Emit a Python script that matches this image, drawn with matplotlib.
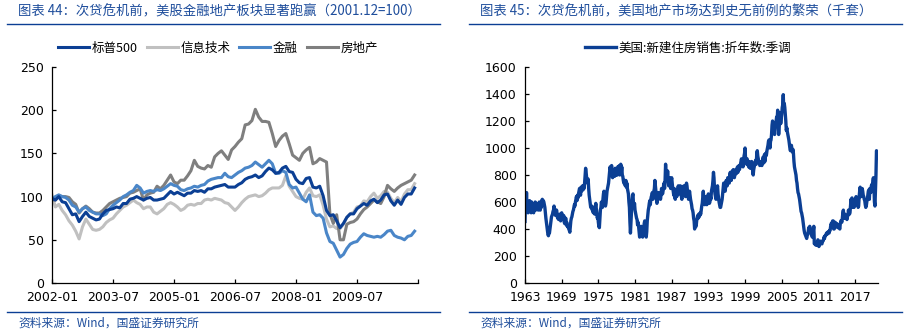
import matplotlib
matplotlib.use('Agg')
import matplotlib.pyplot as plt
from matplotlib.lines import Line2D
import numpy as np

plt.rcParams['font.family'] = ['DejaVu Sans', 'Noto Sans CJK SC']
plt.rcParams['axes.unicode_minus'] = False

# ---- left chart: monthly index, 2001.12 = 100 (2002-01 .. 2010-12) ----
sp500 = [98, 96, 100, 94, 93, 86, 79, 80, 71, 77, 82, 77,
         75, 73, 74, 80, 84, 85, 86, 88, 87, 92, 92, 97,
         98, 100, 98, 96, 98, 99, 96, 96, 97, 98, 102, 106,
         103, 105, 103, 101, 104, 104, 107, 106, 107, 105, 109, 109,
         111, 112, 113, 114, 111, 111, 111, 114, 116, 120, 122, 123,
         125, 122, 124, 129, 133, 131, 127, 128, 133, 135, 129, 128,
         120, 116, 115, 121, 122, 111, 110, 112, 101, 84, 78, 79,
         72, 64, 69, 76, 80, 80, 86, 89, 92, 90, 95, 97,
         93, 96, 102, 103, 95, 90, 96, 91, 99, 103, 103, 110]
info_tech = [102, 88, 91, 84, 79, 72, 67, 60, 51, 65, 74, 68,
             62, 61, 62, 65, 70, 73, 75, 80, 84, 88, 90, 93,
             96, 93, 91, 86, 88, 88, 82, 80, 83, 86, 91, 93,
             91, 88, 84, 86, 90, 91, 90, 92, 92, 96, 97, 96,
             98, 97, 96, 93, 92, 88, 84, 88, 93, 97, 100, 101,
             102, 100, 101, 104, 108, 110, 110, 110, 113, 124, 112, 106,
             100, 98, 97, 105, 110, 101, 100, 102, 90, 74, 65, 66,
             63, 63, 68, 76, 80, 82, 88, 89, 95, 94, 100, 104,
             98, 101, 106, 105, 98, 93, 99, 94, 103, 108, 108, 115]
financials = [98, 100, 102, 100, 99, 96, 90, 88, 82, 86, 88, 84,
              82, 80, 80, 78, 80, 86, 90, 93, 96, 100, 102, 105,
              107, 113, 110, 104, 106, 107, 106, 108, 107, 109, 112, 115,
              113, 112, 108, 107, 109, 110, 112, 111, 113, 114, 118, 120,
              121, 122, 122, 127, 123, 122, 125, 128, 130, 133, 134, 136,
              140, 137, 134, 138, 142, 138, 127, 127, 130, 128, 114, 110,
              111, 104, 97, 94, 102, 82, 78, 79, 75, 58, 48, 46,
              38, 30, 33, 40, 45, 47, 48, 53, 57, 55, 54, 53,
              54, 53, 56, 60, 61, 55, 53, 52, 50, 54, 55, 60]
real_estate = [96, 96, 101, 100, 100, 99, 94, 91, 81, 86, 89, 86,
               82, 81, 81, 84, 88, 92, 94, 96, 98, 99, 100, 104,
               105, 107, 109, 96, 102, 104, 105, 112, 109, 113, 119, 125,
               117, 115, 119, 119, 124, 130, 142, 135, 133, 132, 136, 134,
               146, 150, 153, 148, 143, 154, 158, 163, 167, 183, 184, 188,
               201, 192, 187, 187, 186, 173, 158, 165, 170, 173, 161, 148,
               145, 142, 150, 154, 157, 138, 140, 144, 142, 140, 80, 69,
               79, 50, 50, 68, 70, 71, 74, 80, 85, 88, 92, 96,
               94, 92, 100, 113, 109, 106, 110, 113, 115, 117, 119, 125]
left_labels = ['标普500', '信息技术', '金融', '房地产']
left_ticks = ['2002-01', '2003-07', '2005-01', '2006-07', '2008-01', '2009-07', '']

# ---- right chart: US new home sales, SAAR, thousands (monthly from 1963-01) ----
home_sales = [
    456, 620, 560, 670, 540, 600, 520, 590, 540, 610, 530, 560,  # 1963
    520, 600, 550, 580, 530, 520, 580, 560, 600, 540, 560, 590,  # 1964
    550, 580, 540, 560, 600, 560, 540, 580, 560, 610, 620, 590,  # 1965
    610, 600, 580, 560, 520, 480, 450, 420, 390, 360, 350, 380,  # 1966
    370, 400, 430, 460, 490, 500, 510, 530, 540, 570, 550, 520,  # 1967
    500, 520, 540, 510, 480, 500, 470, 490, 510, 480, 460, 500,  # 1968
    520, 500, 480, 470, 500, 450, 440, 460, 480, 430, 450, 420,  # 1969
    420, 410, 400, 390, 376, 420, 460, 480, 490, 510, 530, 540,  # 1970
    560, 580, 570, 600, 620, 640, 610, 650, 630, 660, 680, 700,  # 1971
    690, 650, 710, 680, 700, 720, 690, 720, 700, 740, 800, 850,  # 1972
    820, 780, 760, 740, 770, 700, 650, 620, 590, 560, 560, 570,  # 1973
    540, 560, 520, 560, 540, 510, 560, 590, 550, 520, 480, 500,  # 1974
    450, 420, 410, 480, 540, 560, 600, 580, 560, 620, 660, 680,  # 1975
    600, 580, 570, 590, 640, 680, 700, 720, 740, 780, 820, 860,  # 1976
    840, 820, 870, 800, 780, 830, 800, 820, 790, 850, 820, 800,  # 1977
    830, 800, 860, 820, 850, 870, 800, 840, 880, 820, 860, 800,  # 1978
    790, 760, 740, 760, 730, 720, 760, 710, 740, 700, 680, 660,  # 1979
    600, 560, 450, 370, 450, 530, 600, 650, 660, 580, 560, 590,  # 1980
    540, 520, 500, 480, 470, 430, 450, 420, 380, 340, 360, 380,  # 1981
    420, 380, 350, 340, 380, 400, 440, 460, 420, 360, 340, 380,  # 1982
    460, 500, 540, 560, 590, 610, 580, 620, 640, 650, 670, 620,  # 1983
    640, 680, 700, 760, 720, 680, 620, 590, 610, 640, 670, 630,  # 1984
    660, 640, 620, 650, 700, 690, 660, 680, 720, 740, 700, 760,  # 1985
    880, 800, 780, 760, 830, 760, 720, 740, 780, 730, 700, 760,  # 1986
    780, 740, 700, 680, 650, 700, 640, 620, 660, 690, 640, 680,  # 1987
    700, 720, 680, 660, 700, 720, 680, 640, 620, 710, 700, 680,  # 1988
    720, 690, 660, 640, 700, 740, 720, 680, 660, 620, 640, 680,  # 1989
    650, 620, 600, 580, 550, 540, 520, 480, 460, 400, 420, 430,  # 1990
    420, 460, 480, 500, 480, 510, 490, 500, 520, 510, 540, 570,  # 1991
    590, 640, 680, 620, 600, 580, 620, 640, 600, 580, 620, 640,  # 1992
    660, 620, 590, 600, 640, 620, 680, 700, 720, 760, 820, 780,  # 1993
    700, 660, 640, 620, 680, 700, 720, 660, 630, 600, 580, 560,  # 1994
    560, 580, 600, 620, 660, 700, 740, 720, 700, 680, 720, 760,  # 1995
    740, 720, 780, 770, 760, 740, 800, 820, 780, 760, 800, 830,  # 1996
    800, 840, 820, 780, 800, 820, 840, 810, 830, 860, 820, 850,  # 1997
    870, 840, 860, 880, 900, 920, 880, 910, 860, 900, 940, 960,  # 1998
    1000, 920, 900, 880, 920, 900, 880, 860, 900, 880, 850, 880,  # 1999
    870, 900, 860, 830, 800, 840, 860, 880, 900, 910, 880, 960,  # 2000
    980, 940, 920, 890, 900, 870, 880, 900, 880, 870, 880, 930,  # 2001
    920, 890, 950, 900, 960, 940, 950, 980, 1000, 1020, 1050, 1060,  # 2002
    1020, 1000, 1050, 1060, 1100, 1170, 1200, 1180, 1120, 1140, 1100, 1160,  # 2003
    1190, 1200, 1230, 1200, 1280, 1170, 1100, 1150, 1220, 1260, 1180, 1220,  # 2004
    1250, 1300, 1320, 1395, 1280, 1330, 1300, 1250, 1200, 1130, 1150, 1120,  # 2005
    1100, 1080, 1060, 1030, 1000, 980, 1000, 1020, 990, 970, 990, 960,  # 2006
    900, 860, 840, 820, 800, 760, 740, 700, 670, 660, 640, 620,  # 2007
    590, 560, 530, 520, 500, 480, 450, 420, 390, 370, 360, 350,  # 2008
    340, 330, 350, 360, 380, 410, 400, 420, 400, 380, 360, 350,  # 2009
    340, 350, 390, 420, 290, 300, 290, 280, 300, 290, 280, 320,  # 2010
    300, 270, 290, 300, 310, 300, 290, 290, 310, 310, 320, 340,  # 2011
    330, 350, 350, 360, 370, 360, 370, 380, 380, 370, 390, 390,  # 2012
    420, 440, 430, 450, 460, 460, 400, 400, 410, 450, 440, 430,  # 2013
    440, 430, 410, 420, 430, 410, 400, 440, 460, 460, 450, 480,  # 2014
    520, 540, 480, 500, 510, 480, 490, 500, 470, 490, 500, 540,  # 2015
    520, 510, 520, 570, 620, 560, 630, 560, 570, 580, 560, 570,  # 2016
    600, 590, 640, 600, 610, 620, 560, 570, 640, 680, 710, 640,  # 2017
    640, 670, 700, 680, 650, 640, 620, 610, 580, 560, 570, 600,  # 2018
    620, 650, 680, 690, 620, 700, 690, 670, 720, 730, 720, 760,  # 2019
    780, 720, 600, 570, 680, 800, 980, 970, 930,  # 2020
]
right_label = '美国:新建住房销售:折年数:季调'
right_ticks = [1963, 1969, 1975, 1981, 1987, 1993, 1999, 2005, 2011, 2017]

title_left = '图表 44：次贷危机前，美股金融地产板块显著跑赢（2001.12=100）'
title_right = '图表 45：次贷危机前，美国地产市场达到史无前例的繁荣（千套）'
source = '资料来源：Wind，国盛证券研究所'

navy = '#0b3f94'
title_blue = '#1f4e9c'
cjk = ['Noto Sans CJK SC', 'DejaVu Sans']

fig = plt.figure(figsize=(9.1, 3.34), dpi=100)
W, H = 910, 334


def fx(px):
    return px / W


def fy(py):
    return 1 - py / H


def style_axis(ax):
    ax.spines['top'].set_visible(False)
    ax.spines['right'].set_visible(False)
    for s in ('left', 'bottom'):
        ax.spines[s].set_linewidth(0.9)
        ax.spines[s].set_color('black')
    ax.tick_params(direction='in', length=3, width=0.9, labelsize=9, colors='black')
    ax.tick_params(axis='y', pad=6)
    ax.tick_params(axis='x', pad=6)


# left axes
ax1 = fig.add_axes([fx(52), fy(283), fx(418 - 52), (283 - 67) / H])
months = np.arange(len(sp500))
series = [sp500, info_tech, financials, real_estate]
colors = [navy, '#c0c0c0', '#4a86c8', '#7f7f7f']
order = [1, 3, 2, 0]
handles = {}
for i in order:
    ln, = ax1.plot(months, series[i], color=colors[i], lw=2.2, label=left_labels[i])
    handles[i] = ln
ax1.set_xlim(0, 108)
ax1.set_ylim(0, 250)
ax1.set_yticks(range(0, 251, 50))
ax1.set_xticks(range(0, 109, 18))
ax1.set_xticklabels(left_ticks)
style_axis(ax1)
fig.legend([handles[i] for i in range(4)], left_labels,
           loc='center', bbox_to_anchor=(fx(218), fy(48)), ncol=4, frameon=False,
           prop={'family': cjk, 'size': 9}, handlelength=2.5, handletextpad=0.2,
           columnspacing=0.7)

# right axes
ax2 = fig.add_axes([fx(525), fy(283), fx(878 - 525), (283 - 67) / H])
years = 1963 + np.arange(len(home_sales)) / 12
ln2, = ax2.plot(years, home_sales, color=navy, lw=2.4, label=right_label)
ax2.set_xlim(1963, 2020.75)
ax2.set_ylim(0, 1600)
ax2.set_yticks(range(0, 1601, 200))
ax2.set_xticks(right_ticks)
style_axis(ax2)
fig.legend([ln2], [right_label], loc='center', bbox_to_anchor=(fx(688), fy(48)),
           frameon=False, prop={'family': cjk, 'size': 9}, handlelength=2.5,
           handletextpad=0.2)

# titles, rules and source notes
for x0, x1, tx, title in [(7, 440, 18, title_left), (469, 902, 480, title_right)]:
    fig.text(fx(tx), fy(11), title, color=title_blue, fontsize=9.6, family=cjk,
             style='italic', ha='left', va='center')
    fig.add_artist(Line2D([fx(x0), fx(x1)], [fy(24), fy(24)], color=navy, lw=1.0))
    fig.add_artist(Line2D([fx(x0), fx(x1)], [fy(312), fy(312)], color=navy, lw=1.0))
    fig.text(fx(tx), fy(323), source, color=title_blue, fontsize=8.5, family=cjk,
             style='italic', ha='left', va='center')

fig.savefig('out.png', dpi=100, facecolor='white')
